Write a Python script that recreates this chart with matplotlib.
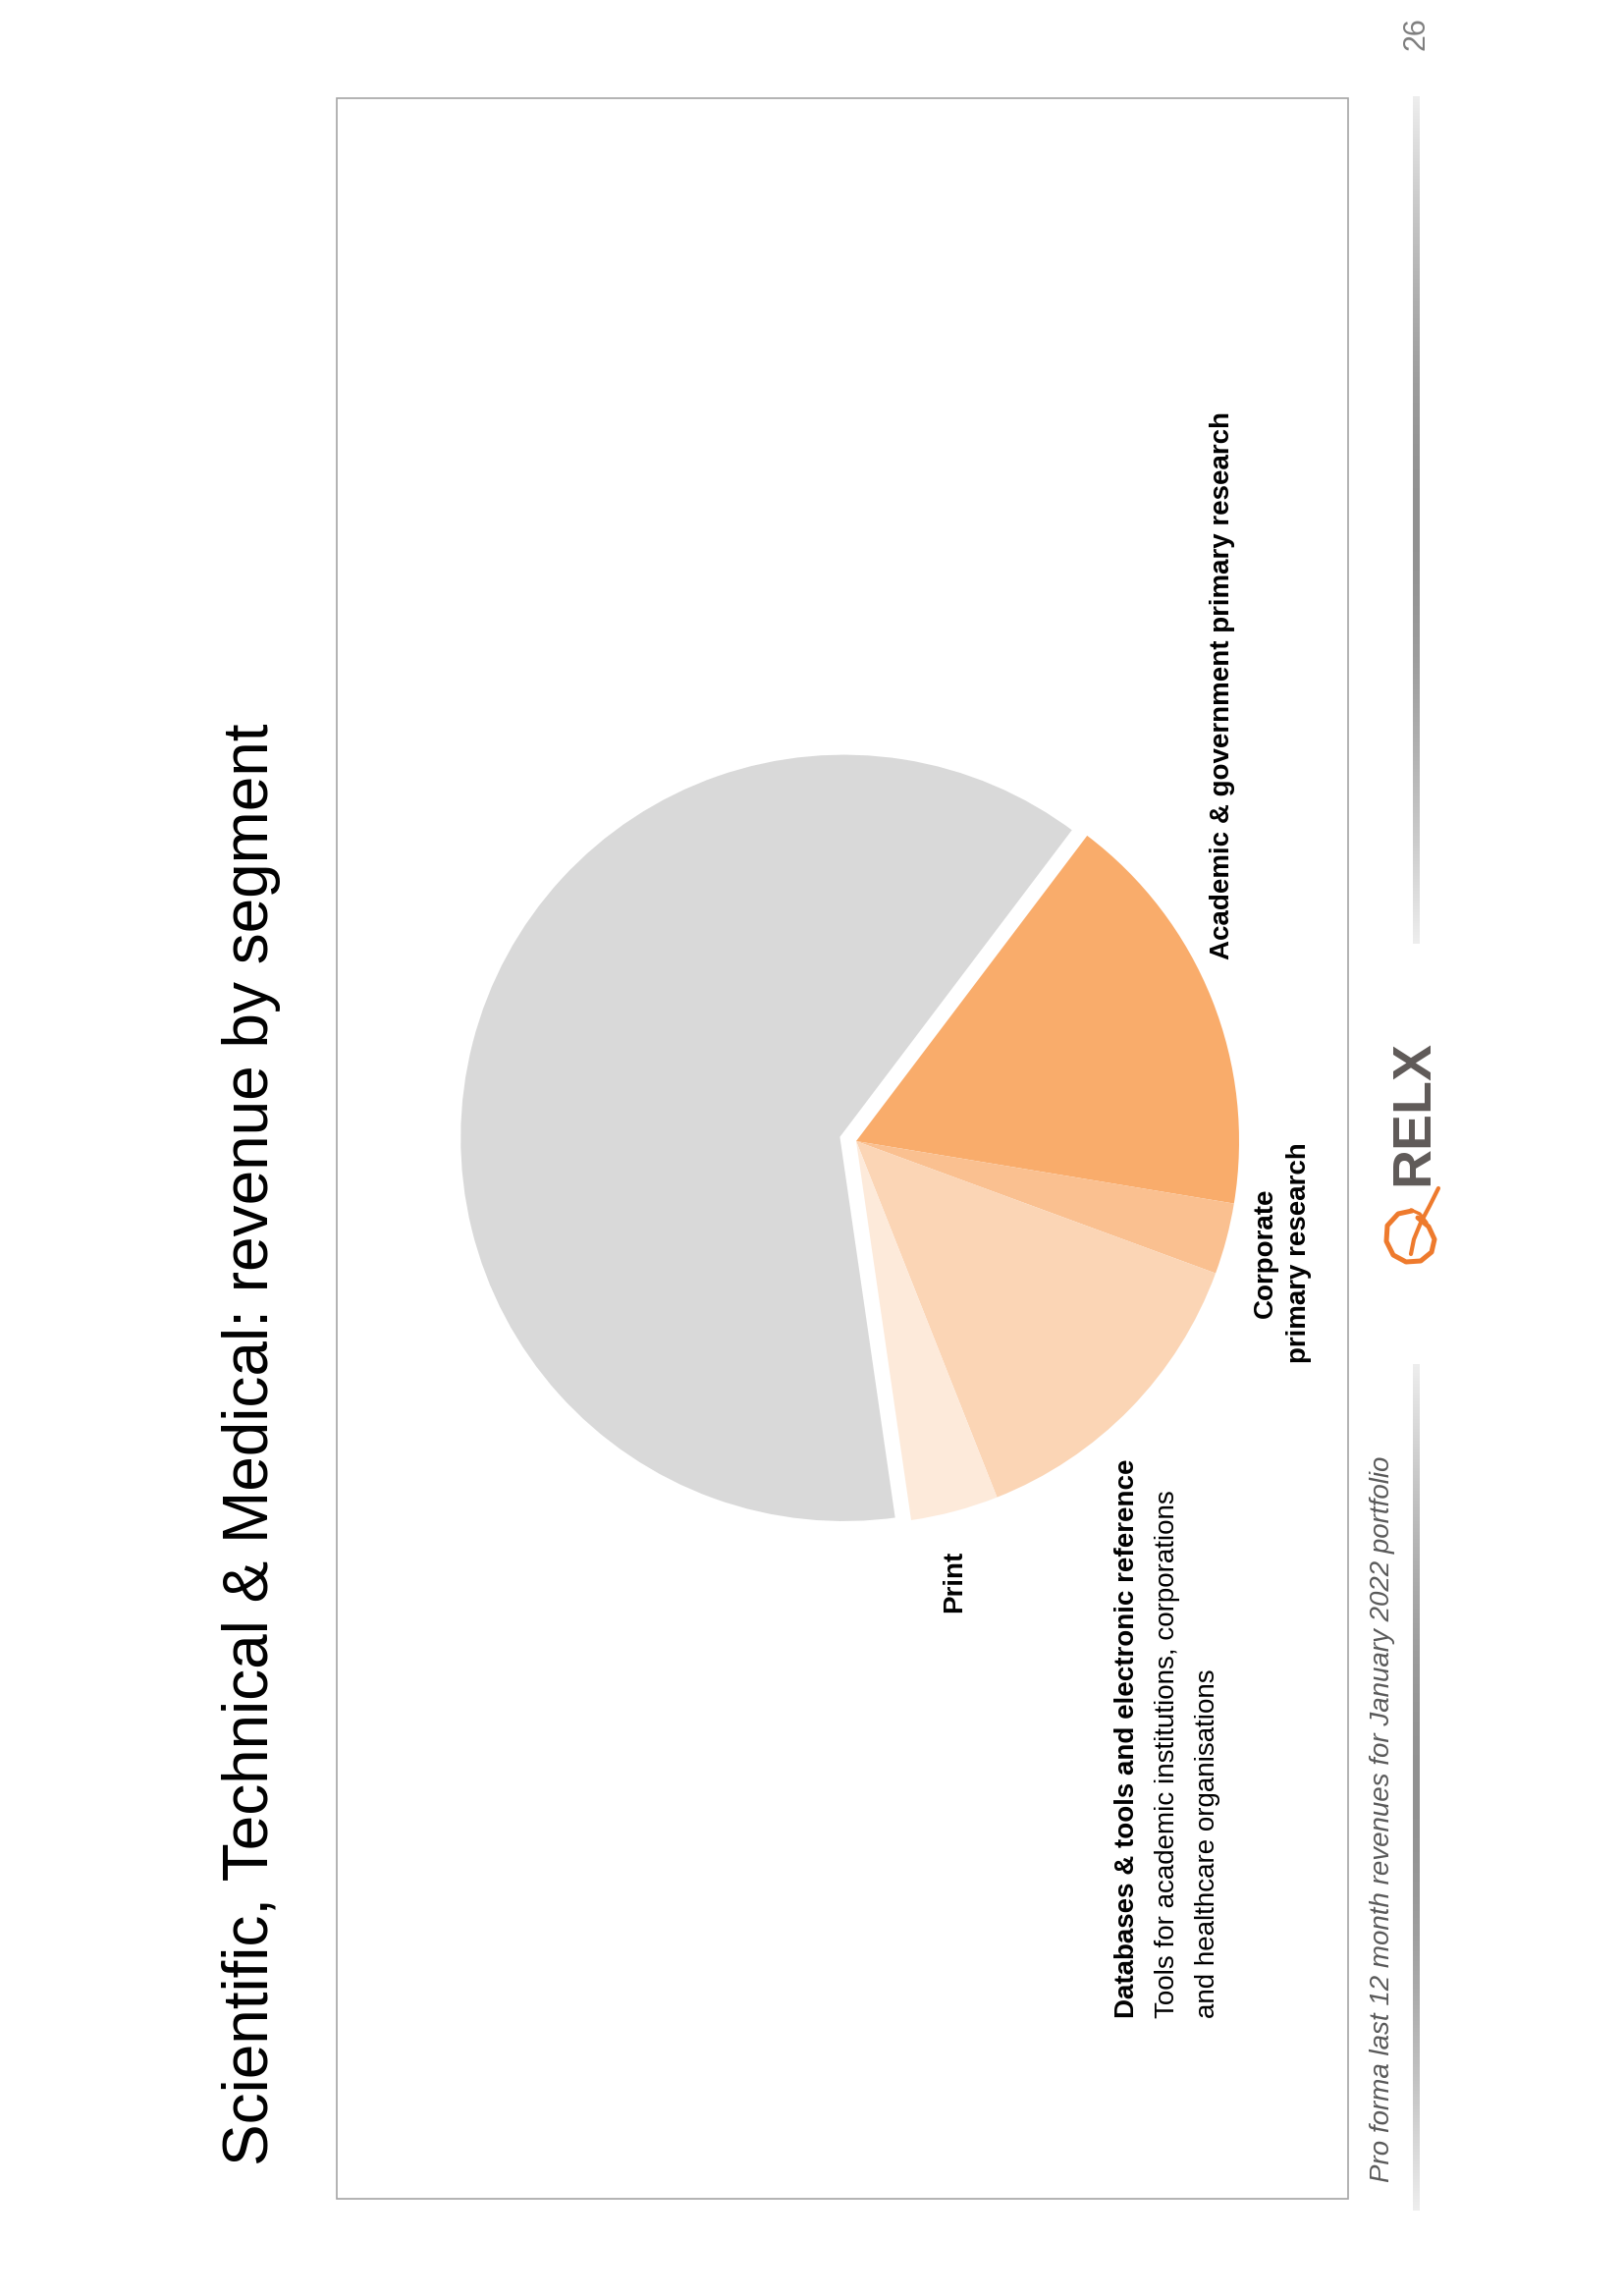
import numpy as np
import matplotlib
matplotlib.use('Agg')
import matplotlib.pyplot as plt
from matplotlib.patches import Rectangle
from matplotlib import font_manager

# ─── Data (slice sizes, % of total) ──────────────────────────────────────────
segments = ['Academic & government primary research',
            'Corporate primary research',
            'Databases & tools and electronic reference',
            'Print',
            'Rest of group']
shares   = [17.3, 3.0, 13.4, 3.7, 62.6]
colours  = ['#F9AC6B', '#FAC090', '#FBD5B5', '#FDEADA', '#D9D9D9']

TITLE    = 'Scientific, Technical & Medical: revenue by segment'
FOOTNOTE = 'Pro forma last 12 month revenues for January 2022 portfolio'
PAGE_NO  = '26'

W, H = 1653, 2338

# narrow font if we have one, otherwise fall back to plain Liberation Sans
names = {f.name for f in font_manager.fontManager.ttflist}
NARROW = 'Liberation Sans Narrow' if 'Liberation Sans Narrow' in names else 'Liberation Sans'
FONT = [NARROW, 'DejaVu Sans']
SQUEEZE = 1.22 if NARROW == 'Liberation Sans Narrow' else 1.0

LABEL_SIZE = 20 * SQUEEZE


def Y(y):
    # picture coords (y down) -> data coords (y up)
    return H - np.asarray(y)


fig = plt.figure(figsize=(W / 100, H / 100), dpi=100)
ax = fig.add_axes([0, 0, 1, 1])
ax.axis('off')

# slide frame
ax.add_patch(Rectangle((343, Y(2239)), 1373 - 343, 2239 - 100,
                       fill=False, edgecolor='#A6A6A6', linewidth=1.2))

# ── Pie ──────────────────────────────────────────────────────────────────────
# explode is in data units here (radius = 390 px)
wedges, _ = ax.pie(shares, colors=colours, startangle=52.9, counterclock=False,
                   center=(872, Y(1162)), radius=390,
                   explode=[0, 0, 0, 0, 13],
                   wedgeprops=dict(linewidth=0))
# the grey "rest" slice sits a little apart, with a white rim widening the gap
wedges[-1].set_radius(394)
wedges[-1].set_edgecolor('white')
wedges[-1].set_linewidth(5.5)

# ── Texts (slide is rotated, so everything reads bottom -> top) ─────────────
kw = dict(rotation=90, rotation_mode='anchor', family=FONT, color='black')

ax.text(256, Y(2205), TITLE, fontsize=46 * SQUEEZE, ha='left', va='center', **kw)

ax.text(1245, Y(977), 'Academic & government primary research',
        fontsize=LABEL_SIZE, fontweight='bold', ha='left', va='center', **kw)

ax.text(1306, Y(1276), 'Corporate\nprimary research', fontsize=LABEL_SIZE,
        fontweight='bold', ha='center', va='center', multialignment='center',
        linespacing=1.45, **kw)

ax.text(972, Y(1610), 'Print', fontsize=LABEL_SIZE, fontweight='bold',
        ha='center', va='center', **kw)

ax.text(1148, Y(2055), 'Databases & tools and electronic reference',
        fontsize=LABEL_SIZE, fontweight='bold', ha='left', va='center', **kw)
ax.text(1189, Y(2055), 'Tools for academic institutions, corporations',
        fontsize=LABEL_SIZE, ha='left', va='center', **kw)
ax.text(1230, Y(2055), 'and healthcare organisations',
        fontsize=LABEL_SIZE, ha='left', va='center', **kw)

ax.text(1408, Y(2222), FOOTNOTE, fontsize=20 * SQUEEZE, style='italic',
        ha='left', va='center', rotation=90, rotation_mode='anchor',
        family=FONT, color='#595959')

ax.text(1443, Y(34), PAGE_NO, fontsize=22, ha='center', va='center',
        rotation=90, rotation_mode='anchor', family=FONT, color='#7F7F7F')

# ── Gradient rules either side of the logo ──────────────────────────────────
for y0, y1 in [(98, 961), (1389, 2251)]:
    t = np.linspace(0, 1, 200)
    shade = 0.93 - 0.36 * np.sin(np.pi * t)
    grad = np.array([[[s, s, s]] for s in shade])
    ax.imshow(grad, extent=(1439, 1446, Y(y1), Y(y0)), aspect='auto',
              interpolation='bilinear', zorder=1)

# ── RELX logo ────────────────────────────────────────────────────────────────
ax.text(1440, Y(1207), 'RELX', fontsize=40, fontweight='bold',
        ha='left', va='center', rotation=90, rotation_mode='anchor',
        family=['Liberation Sans', 'DejaVu Sans'], color='#5F5A58')

# orange script "R" swoosh
loop = np.array([(1438, 1233), (1424, 1236), (1413, 1248), (1412, 1264),
                 (1419, 1278), (1432, 1285), (1447, 1284), (1458, 1275),
                 (1461, 1262), (1455, 1249), (1444, 1240)])
tail = np.array([(1437, 1277), (1440, 1262), (1447, 1245), (1456, 1228),
                 (1465, 1210)])
tick = np.array([(1437, 1232), (1446, 1236), (1453, 1245)])
for pts, lw in [(loop, 3.6), (tail, 3.0), (tick, 2.4)]:
    ax.plot(pts[:, 0], Y(pts[:, 1]), color='#EE7A2D', linewidth=lw,
            solid_capstyle='round', solid_joinstyle='round')

ax.set_xlim(0, W)
ax.set_ylim(0, H)
ax.set_aspect('equal')

fig.savefig('out.png', dpi=100, facecolor='white')
